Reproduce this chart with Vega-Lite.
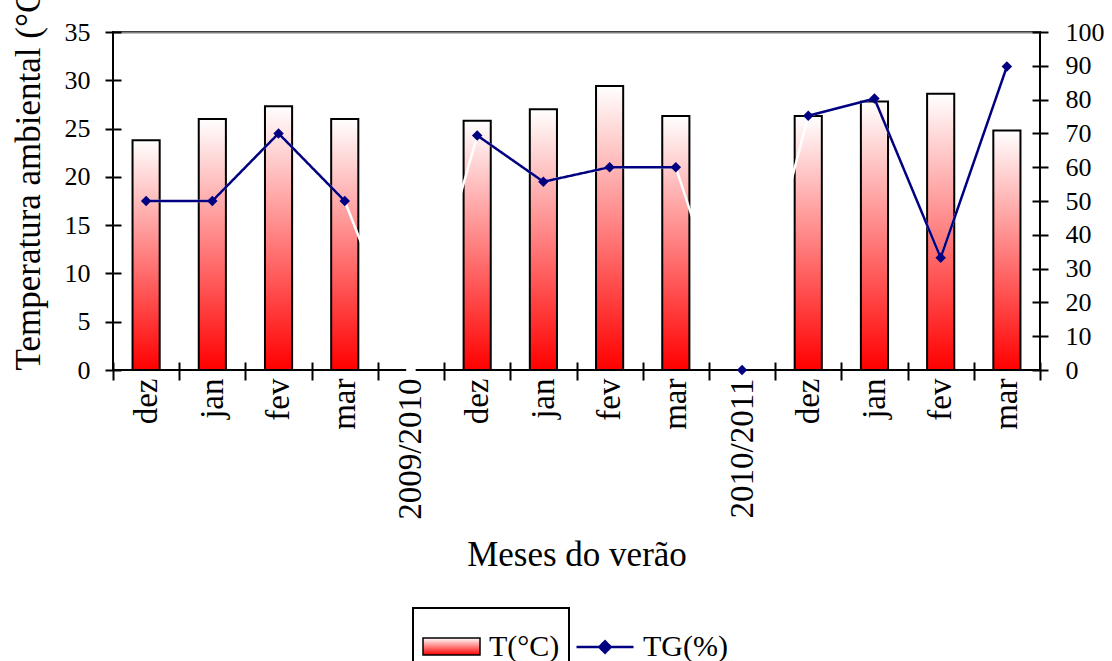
{
  "$schema": "https://vega.github.io/schema/vega-lite/v6.json",
  "width": 927,
  "height": 338,
  "autosize": "none",
  "padding": {"left": 113, "top": 32, "right": 72, "bottom": 291},
  "background": "white",
  "config": {
    "font": "Liberation Serif",
    "view": {"stroke": "black", "strokeWidth": 2},
    "axis": {
      "labelFont": "Liberation Serif",
      "titleFont": "Liberation Serif",
      "labelColor": "black",
      "titleColor": "black",
      "titleFontWeight": "normal",
      "tickColor": "black",
      "tickWidth": 2,
      "domain": false
    },
    "legend": {"strokeWidth": 2}
  },
  "data": {
    "values": [
      {"k": "dez-1", "temp": 23.8, "tg": 50, "grupo": 1},
      {"k": "jan-1", "temp": 26.0, "tg": 50, "grupo": 1},
      {"k": "fev-1", "temp": 27.3, "tg": 70, "grupo": 1},
      {"k": "mar-1", "temp": 26.0, "tg": 50, "grupo": 1},
      {"k": "2009/2010", "temp": null, "tg": 0, "grupo": null},
      {"k": "dez-2", "temp": 25.8, "tg": 69.4, "grupo": 2},
      {"k": "jan-2", "temp": 27.0, "tg": 55.7, "grupo": 2},
      {"k": "fev-2", "temp": 29.4, "tg": 60, "grupo": 2},
      {"k": "mar-2", "temp": 26.3, "tg": 60, "grupo": 2},
      {"k": "2010/2011", "temp": null, "tg": 0, "grupo": null},
      {"k": "dez-3", "temp": 26.3, "tg": 75.2, "grupo": 3},
      {"k": "jan-3", "temp": 27.8, "tg": 80.3, "grupo": 3},
      {"k": "fev-3", "temp": 28.6, "tg": 33.2, "grupo": 3},
      {"k": "mar-3", "temp": 24.8, "tg": 89.8, "grupo": 3}
    ]
  },
  "encoding": {
    "x": {
      "field": "k",
      "type": "nominal",
      "sort": null,
      "scale": {
        "domain": ["dez-1", "jan-1", "fev-1", "mar-1", "2009/2010", "dez-2", "jan-2", "fev-2", "mar-2", "2010/2011", "dez-3", "jan-3", "fev-3", "mar-3"],
        "paddingInner": 0,
        "paddingOuter": 0
      },
      "axis": {
        "title": "Meses do verão",
        "titleFontSize": 35,
        "titlePadding": 18,
        "labelExpr": "isString(datum.value) ? split(datum.value, '-')[0] : ''",
        "labelAngle": -90,
        "labelFontSize": 33,
        "labelOverlap": false,
        "labelPadding": -2,
        "tickBand": "extent",
        "tickSize": 18,
        "offset": -8
      }
    }
  },
  "layer": [
    {
      "mark": {
        "type": "bar",
        "strokeWidth": 2,
        "width": {"band": 0.41},
        "fill": {
          "gradient": "linear",
          "x1": 0, "y1": 1, "x2": 0, "y2": 0,
          "stops": [
            {"offset": 0, "color": "#ff0000"},
            {"offset": 1, "color": "#ffffff"}
          ]
        }
      },
      "encoding": {
        "y": {
          "field": "temp",
          "type": "quantitative",
          "scale": {"domain": [0, 35]},
          "axis": {
            "orient": "left",
            "values": [0, 5, 10, 15, 20, 25, 30, 35],
            "title": "Temperatura ambiental (°C)",
            "titleFontSize": 35,
            "titleAnchor": "start",
            "titlePadding": 18,
            "labelFontSize": 26,
            "labelPadding": 15,
            "tickSize": 16,
            "offset": -8,
            "grid": true,
            "gridColor": "#808080",
            "gridWidth": 2,
            "gridOpacity": {"condition": {"test": "datum.value == 35", "value": 1}, "value": 0}
          }
        },
        "stroke": {
          "datum": "T(°C)",
          "type": "nominal",
          "scale": {"domain": ["T(°C)"], "range": ["black"]},
          "legend": {
            "title": null,
            "orient": "none",
            "legendX": 300,
            "legendY": 576,
            "labelFontSize": 30,
            "labelColor": "black",
            "labelLimit": 400,
            "labelExpr": "datum.label + '\u00a0\u00a0\u00a0\u00a0\u00a0\u00a0\u00a0\u00a0\u00a0\u00a0\u00a0\u00a0\u00a0\u00a0\u00a0\u00a0\u00a0\u00a0\u00a0\u00a0\u00a0\u00a0\u00a0'",
            "symbolType": "M-1,-0.3H1V0.3H-1Z",
            "symbolSize": 3249,
            "symbolStrokeWidth": 1.5,
            "labelOffset": 8,
            "padding": 9,
            "strokeColor": "black"
          }
        }
      }
    },
    {
      "encoding": {
        "y": {
          "field": "tg",
          "type": "quantitative",
          "scale": {"domain": [0, 100]},
          "axis": {
            "orient": "right",
            "values": [0, 10, 20, 30, 40, 50, 60, 70, 80, 90, 100],
            "title": null,
            "labelFontSize": 26,
            "labelPadding": 17,
            "tickSize": 16,
            "offset": -8
          }
        }
      },
      "layer": [
        {
          "mark": {"type": "line", "color": "white", "strokeWidth": 2.5}
        },
        {
          "transform": [{"filter": "datum.grupo != null"}],
          "mark": {"type": "line", "color": "#000080", "strokeWidth": 2.5},
          "encoding": {
            "detail": {"field": "grupo"},
            "strokeDash": {
              "datum": "TG(%)",
              "type": "nominal",
              "scale": {"domain": ["TG(%)"], "range": [[1, 0]]},
              "legend": {
                "title": null,
                "orient": "none",
                "legendX": 462,
                "legendY": 585,
                "labelFontSize": 30,
                "labelColor": "black",
                "symbolType": "M-1,0H1M-0.2,0L0,-0.2L0.2,0L0,0.2Z",
                "symbolSize": 3249,
                "symbolStrokeWidth": 2.5,
                "symbolFillColor": "#000080",
                "symbolStrokeColor": "#000080",
                "labelOffset": 8,
                "padding": 0,
                "strokeColor": null
              }
            }
          }
        },
        {
          "mark": {"type": "point", "shape": "diamond", "filled": true, "size": 110, "opacity": 1},
          "encoding": {
            "fill": {"condition": {"test": "datum.k == '2009/2010'", "value": "white"}, "value": "#000080"}
          }
        }
      ]
    }
  ],
  "resolve": {"scale": {"y": "independent"}}
}
